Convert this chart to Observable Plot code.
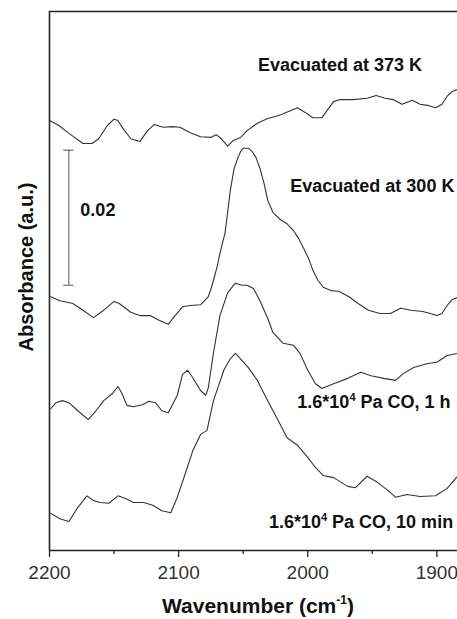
<!DOCTYPE html>
<html><head><meta charset="utf-8">
<script src="https://cdn.jsdelivr.net/npm/d3@7"></script>
<script src="https://cdn.jsdelivr.net/npm/@observablehq/plot@0.6"></script>
<style>body{margin:0;background:#fff} svg{display:block}</style>
</head><body><div id="chart"></div>
<script>
// ---- data (wavenumber cm^-1, absorbance a.u. incl. stacking offset) ----
const evac373 = [[2200,0.0637],[2193,0.0630],[2185,0.0618],[2174,0.0603],[2167,0.0603],[2162,0.0610],[2155,0.0630],[2150,0.0639],[2147,0.0637],[2143,0.0625],[2137,0.0610],[2130,0.0606],[2124,0.0622],[2119,0.0631],[2112,0.0627],[2105,0.0628],[2099,0.0627],[2091,0.0619],[2083,0.0613],[2075,0.0612],[2071,0.0616],[2068,0.0612],[2062,0.0599],[2058,0.0607],[2052,0.0612],[2047,0.0622],[2039,0.0633],[2031,0.0640],[2023,0.0644],[2019,0.0647],[2013,0.0652],[2008,0.0656],[2002,0.0649],[1996,0.0641],[1989,0.0641],[1985,0.0652],[1980,0.0665],[1975,0.0668],[1965,0.0668],[1954,0.0670],[1947,0.0674],[1940,0.0670],[1934,0.0668],[1927,0.0661],[1919,0.0667],[1913,0.0661],[1906,0.0659],[1901,0.0656],[1896,0.0661],[1892,0.0673],[1888,0.0680],[1884,0.0683]];
const evac300 = [[2199,0.0376],[2192,0.0370],[2182,0.0366],[2174,0.0356],[2166,0.0345],[2158,0.0356],[2150,0.0369],[2146,0.0366],[2137,0.0353],[2130,0.0348],[2122,0.0348],[2116,0.0342],[2108,0.0335],[2104,0.0345],[2097,0.0361],[2091,0.0363],[2083,0.0364],[2077,0.0376],[2075,0.0387],[2073,0.0400],[2070,0.0422],[2068,0.0440],[2064,0.0471],[2062,0.0501],[2060,0.0533],[2057,0.0566],[2054,0.0582],[2052,0.0591],[2050,0.0596],[2046,0.0596],[2043,0.0591],[2040,0.0582],[2037,0.0566],[2034,0.0545],[2031,0.0519],[2027,0.0501],[2021,0.0490],[2016,0.0484],[2011,0.0474],[2007,0.0462],[2003,0.0447],[1999,0.0431],[1996,0.0415],[1992,0.0400],[1988,0.0390],[1982,0.0385],[1976,0.0384],[1968,0.0376],[1961,0.0366],[1953,0.0356],[1944,0.0351],[1936,0.0351],[1928,0.0359],[1920,0.0356],[1911,0.0354],[1905,0.0351],[1900,0.0348],[1896,0.0351],[1892,0.0363],[1888,0.0372],[1884,0.0375]];
const co1h = [[2199,0.0210],[2195,0.0219],[2190,0.0222],[2185,0.0219],[2178,0.0207],[2170,0.0194],[2164,0.0207],[2158,0.0222],[2151,0.0233],[2147,0.0243],[2144,0.0233],[2140,0.0215],[2135,0.0213],[2128,0.0216],[2123,0.0221],[2118,0.0219],[2113,0.0207],[2108,0.0204],[2104,0.0219],[2101,0.0230],[2097,0.0261],[2093,0.0267],[2089,0.0256],[2083,0.0237],[2079,0.0230],[2077,0.0241],[2073,0.0293],[2068,0.0348],[2062,0.0382],[2056,0.0396],[2051,0.0393],[2047,0.0393],[2042,0.0388],[2037,0.0370],[2031,0.0344],[2027,0.0323],[2019,0.0307],[2011,0.0304],[2006,0.0292],[2000,0.0267],[1994,0.0247],[1989,0.0240],[1980,0.0247],[1969,0.0255],[1959,0.0264],[1951,0.0259],[1941,0.0255],[1932,0.0252],[1926,0.0262],[1918,0.0271],[1907,0.0277],[1900,0.0279],[1892,0.0289],[1884,0.0292]];
const co10min = [[2199,0.0055],[2192,0.0047],[2185,0.0043],[2178,0.0064],[2171,0.0081],[2166,0.0074],[2161,0.0071],[2154,0.0070],[2147,0.0081],[2141,0.0077],[2135,0.0071],[2127,0.0071],[2120,0.0067],[2113,0.0059],[2106,0.0056],[2101,0.0079],[2095,0.0113],[2089,0.0148],[2083,0.0172],[2078,0.0178],[2073,0.0222],[2065,0.0267],[2060,0.0284],[2056,0.0292],[2052,0.0284],[2046,0.0271],[2039,0.0252],[2031,0.0222],[2023,0.0193],[2016,0.0167],[2008,0.0156],[2000,0.0138],[1994,0.0123],[1988,0.0111],[1980,0.0108],[1969,0.0095],[1963,0.0093],[1954,0.0110],[1946,0.0101],[1938,0.0089],[1932,0.0079],[1923,0.0083],[1913,0.0080],[1901,0.0081],[1892,0.0092],[1884,0.0110]];

const seriesNames = ["Evacuated at 373 K","Evacuated at 300 K","1.6*10^4 Pa CO, 1 h","1.6*10^4 Pa CO, 10 min"];
const seriesData = [evac373, evac300, co1h, co10min];
const labelW = [1911, 1886, 1889, 1887];
const labelA = [0.0710, 0.0530, 0.0210, 0.0033];

const majorTicks = [2200, 2100, 2000, 1900];
const minorTicks = [2150, 2050, 1950];
const xDomain = [2200, 1884];
const yDomain = [0, 0.07985];
const scaleBar = {w: 2185, base: 0.0393, length: 0.02, capHalf: 4, label: "0.02"};
const xTitle = "Wavenumber (cm^{-1})";
const yTitle = "Absorbance (a.u.)";

const rows = seriesData.flatMap((d, i) => d.map(([w, a]) => ({series: seriesNames[i], w, a})));
const FONT = "'Liberation Sans', Arial, Helvetica, sans-serif";

const chart = Plot.plot({
  width: 457, height: 619,
  marginLeft: 49, marginRight: 0, marginTop: 11, marginBottom: 69,
  style: {fontFamily: FONT, background: "#fff", overflow: "visible"},
  x: {domain: xDomain, axis: null},
  y: {domain: yDomain, axis: null},
  marks: [
    Plot.line(rows, {x: "w", y: "a", z: "series", stroke: "#333", strokeWidth: 1.1}),
    Plot.ruleX([scaleBar], {x: "w", y1: "base", y2: d => d.base + d.length, stroke: "#555", strokeWidth: 1}),
    Plot.ruleY([scaleBar.base, scaleBar.base + scaleBar.length], {x1: scaleBar.w + scaleBar.capHalf, x2: scaleBar.w - scaleBar.capHalf, stroke: "#555", strokeWidth: 1}),
    Plot.ruleY([yDomain[0]], {stroke: "#222", strokeWidth: 1.6}),
    Plot.ruleY([yDomain[1]], {stroke: "#222", strokeWidth: 1.4}),
    Plot.ruleX([xDomain[0]], {stroke: "#222", strokeWidth: 1.6}),
    Plot.axisX({ticks: majorTicks, tickSize: 7, tickPadding: 8, fontSize: 19, tickFormat: d3.format("d"), label: null, stroke: "#222", strokeWidth: 1.3, fill: "#333"}),
    Plot.axisX({ticks: minorTicks, tickSize: 4, tickFormat: () => "", label: null, stroke: "#222", strokeWidth: 1.3})
  ]
});
document.getElementById("chart").appendChild(chart);

const sx = chart.scale("x"), sy = chart.scale("y");
const svg = d3.select(chart);

function richText(sel, str, supSize, shift) {
  // "^4" or "^{-1}" become superscripts
  const re = /\^(\{[^}]*\}|\S)/g;
  let last = 0, m, pendingDown = 0;
  while ((m = re.exec(str))) {
    if (m.index > last) sel.append("tspan").attr("dy", pendingDown || null).text(str.slice(last, m.index)), pendingDown = 0;
    const sup = m[1].replace(/[{}]/g, "");
    sel.append("tspan").attr("dy", -shift).attr("font-size", supSize).text(sup);
    pendingDown = shift;
    last = re.lastIndex;
  }
  if (last < str.length) sel.append("tspan").attr("dy", pendingDown || null).text(str.slice(last));
}

seriesNames.forEach((name, i) => {
  const t = svg.append("text")
    .attr("x", sx.apply(labelW[i])).attr("y", sy.apply(labelA[i]))
    .attr("text-anchor", "end").attr("font-family", FONT)
    .attr("font-weight", "bold").attr("font-size", 18).attr("fill", "#111");
  richText(t, name, 11, 7);
});

svg.append("text")
  .attr("x", sx.apply(scaleBar.w) + 12).attr("y", sy.apply(scaleBar.base + scaleBar.length / 2) - 1)
  .attr("text-anchor", "start")
  .attr("font-family", FONT).attr("font-weight", "bold").attr("font-size", 18).attr("fill", "#111")
  .text(scaleBar.label);

const xt = svg.append("text")
  .attr("x", 258).attr("y", 613).attr("text-anchor", "middle")
  .attr("font-family", FONT).attr("font-weight", "bold").attr("font-size", 21).attr("fill", "#111");
richText(xt, xTitle, 12, 9);

svg.append("text")
  .attr("transform", "translate(33,267) rotate(-90)").attr("text-anchor", "middle")
  .attr("font-family", FONT).attr("font-weight", "bold").attr("font-size", 20).attr("fill", "#111")
  .text(yTitle);
</script></body></html>
